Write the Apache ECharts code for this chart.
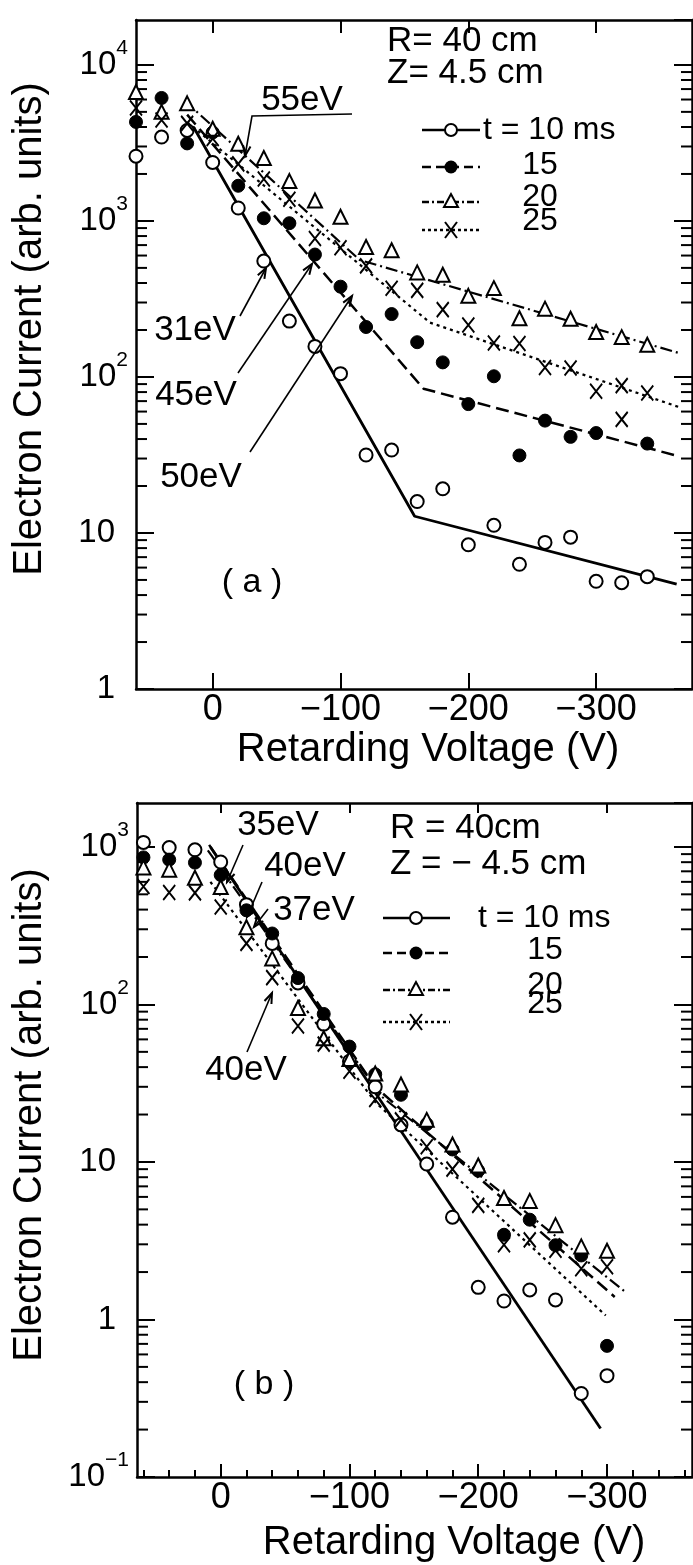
<!DOCTYPE html>
<html>
<head>
<meta charset="utf-8">
<script src="https://cdn.jsdelivr.net/npm/echarts@6/dist/echarts.min.js"></script>
<style>
html, body { margin: 0; padding: 0; background: #fff; }
#chart { width: 693px; height: 1565px; }
</style>
</head>
<body>
<div id="chart"></div>
<script>
// ---- panel (a)  R = 40 cm, Z = 4.5 cm ----
var aVolt   = [60, 40, 20, 0, -20, -40, -60, -80, -100, -120, -140, -160, -180, -200, -220, -240, -260, -280, -300, -320, -340];
var aCur10  = [2600, 3450, 3800, 2370, 1210, 553, 228, 157, 105, 31.6, 34, 15.9, 19.2, 8.4, 11.2, 6.3, 8.7, 9.4, 4.9, 4.8, 5.25];
var aVolt15 = [60, 40, 20, 0, -20, -40, -60, -80, -100, -120, -140, -160, -180, -200, -220, -240, -260, -280, -300, -340];
var aCur15  = [4310, 6140, 3140, 3690, 1680, 1040, 967, 609, 379, 209, 253, 167, 124, 67, 101, 31.4, 52.5, 41.3, 43.7, 37.4];
var aCur20  = [6710, 5000, 5670, 3900, 3125, 2530, 1800, 1352, 1064, 681, 649, 468, 452, 331, 371, 238, 274, 236, 194, 180, 161];
var aVolt25 = [60, 40, 20, 0, -20, -40, -60, -80, -100, -120, -140, -160, -180, -200, -220, -240, -260, -280, -300, -320, -320, -340];
var aCur25  = [5300, 4440, 4220, 3375, 2320, 1857, 1377, 771, 673, 515, 370, 359, 270, 215, 165, 164, 115, 114, 81, 88, 53.5, 79];
// fitted lines (a)
var aFitV10 = [15, -158, -363],  aFitI10 = [4000, 12.8, 4.7];
var aFitV15 = [20, -165, -365],  aFitI15 = [4800, 84, 31];
var aFitV20 = [22, -115, -364],  aFitI20 = [5900, 562, 143];
var aFitV25 = [20, -170, -365],  aFitI25 = [4300, 223, 64];

// ---- panel (b)  R = 40 cm, Z = -4.5 cm ----
var bVolt  = [60, 40, 20, 0, -20, -40, -60, -80, -100, -120, -140, -160, -180, -200, -220, -240, -260, -280, -300];
var bCur10 = [1068, 990, 959, 802, 430, 244, 137, 75, 43.6, 30, 17.2, 9.7, 4.46, 1.6, 1.31, 1.54, 1.33, 0.339, 0.44];
var bCur15 = [858, 830, 795, 663, 396, 282, 147, 87, 54, 36, 26.7, 17.4, 12, 8.8, 3.45, 4.3, 2.96, 2.55, 0.68];
var bCur20 = [741, 717, 637, 556, 309, 196, 95, 61, 45, 36.4, 31, 18.5, 12.9, 9.5, 5.9, 5.66, 3.97, 2.91, 2.73];
var bCur25 = [561, 513, 511, 415, 244, 148, 73, 56, 37.7, 24.9, 18.5, 12.5, 9, 5.3, 2.98, 3.2, 2.75, 2.1, 2.16];
// fitted lines (b)
var bFitV10 = [8, -295],         bFitI10 = [1000, 0.203];
var bFitV15 = [9, -120, -306],   bFitI15 = [1030, 30, 1.39];
var bFitV20 = [10, -125, -314],  bFitI20 = [950, 26, 1.5];
var bFitV25 = [8, -120, -299],   bFitI25 = [600, 24, 1.06];

// ticks
var xMajor  = [0, -100, -200, -300];
var bXMinor = [60, 40, 20, 0, -20, -40, -60, -80, -100, -120, -140, -160, -180, -200, -220, -240, -260, -280, -300, -320, -340, -360];
var minorMult = [2, 3, 4, 5, 6, 7, 8, 9];
var aDecades = [1, 10, 100, 1000];
var bDecades = [0.1, 1, 10, 100];

var FONT = '"Liberation Sans", Arial, sans-serif';

function pts(xs, ys) {
  return xs.map(function (x, i) { return [x, ys[i]]; });
}
function minorTicks(decades) {
  var out = [];
  decades.forEach(function (d) {
    minorMult.forEach(function (m) { out.push([0, +(d * m).toPrecision(6)]); });
  });
  return out;
}
function voltLabel(v) {
  return v === 0 ? '0' : '\u2212' + Math.abs(v);
}
function decadeLabel(v) {
  var l = Math.log10(v), e = Math.round(l);
  if (Math.abs(l - e) > 1e-6) return '';
  if (e === 0) return '{b|1}{z| }';
  if (e === 1) return '{b|10}{z| }';
  return '{b|10}{s|' + (e < 0 ? '\u2212' + (-e) : e) + '}';
}
var yRich = {
  b: { fontSize: 33, fontFamily: FONT, color: '#000', lineHeight: 54, verticalAlign: 'middle' },
  s: { fontSize: 21, fontFamily: FONT, color: '#000', lineHeight: 22, verticalAlign: 'top' },
  z: { width: 13, fontSize: 21, lineHeight: 22 }
};

function xAx(gi, min, max, pos, ticks, tickLen, labels, showLine) {
  return {
    type: 'value', gridIndex: gi, position: pos, inverse: true, min: min, max: max,
    axisLine: { show: showLine !== false, onZero: false, lineStyle: { color: '#000', width: 2.5 } },
    axisTick: { show: true, inside: true, length: tickLen, customValues: ticks, lineStyle: { color: '#000', width: 2 } },
    axisLabel: labels ? { show: true, customValues: labels, formatter: voltLabel, color: '#000',
      fontSize: 36, fontFamily: FONT, margin: 3 } : { show: false },
    splitLine: { show: false }
  };
}
function yAx(gi, min, max, pos, labels) {
  return {
    type: 'log', logBase: 10, gridIndex: gi, position: pos, min: min, max: max,
    axisLine: { show: true, onZero: false, lineStyle: { color: '#000', width: 2.5 } },
    axisTick: { show: true, inside: true, length: 18, lineStyle: { color: '#000', width: 2 } },
    axisLabel: labels ? { show: true, formatter: decadeLabel, rich: yRich, margin: 8, showMaxLabel: false } : { show: false },
    splitLine: { show: false }, minorTick: { show: false }, minorSplitLine: { show: false }
  };
}

var MARK = {
  open:  { symbol: 'circle', symbolSize: 13, itemStyle: { color: '#fff', borderColor: '#000', borderWidth: 2, opacity: 1 } },
  dot:   { symbol: 'circle', symbolSize: 13, itemStyle: { color: '#000', borderColor: '#000', borderWidth: 1, opacity: 1 } },
  tri:   { symbol: 'triangle', symbolSize: 14, itemStyle: { color: '#fff', borderColor: '#000', borderWidth: 2, opacity: 1 } },
  cross: { symbol: 'path://M0,0L12,15M12,0L0,15', symbolSize: [12, 15], itemStyle: { color: 'transparent', borderColor: '#000', borderWidth: 2, opacity: 1 } }
};
var DASH = { t10: 'solid', t15: [13, 6], t20: [12, 4, 2, 4], t25: [3, 4] };

function scatter(xi, yi, data, mark) {
  return {
    type: 'scatter', xAxisIndex: xi, yAxisIndex: yi, data: data, z: 4, silent: true,
    symbol: mark.symbol, symbolSize: mark.symbolSize, itemStyle: mark.itemStyle
  };
}
function fit(xi, yi, data, dash, w) {
  return {
    type: 'line', xAxisIndex: xi, yAxisIndex: yi, data: data, z: 2, silent: true,
    showSymbol: false, symbol: 'none',
    lineStyle: { color: '#000', width: w || 2.5, type: dash, opacity: 1 }
  };
}
function sideTicks(xi, yi, data) {
  return {
    type: 'custom', xAxisIndex: xi, yAxisIndex: yi, data: data, silent: true, z: 3,
    renderItem: function (params, api) {
      var cs = params.coordSys;
      var y = api.coord([0, api.value(1)])[1];
      var st = { stroke: '#000', lineWidth: 2 };
      return { type: 'group', children: [
        { type: 'line', shape: { x1: cs.x, y1: y, x2: cs.x + 11, y2: y }, style: st },
        { type: 'line', shape: { x1: cs.x + cs.width - 11, y1: y, x2: cs.x + cs.width, y2: y }, style: st }
      ] };
    }
  };
}

// ---- annotation helpers ----
function txt(s, x, y, size, align) {
  return { type: 'text', z: 10, style: { text: s, x: x, y: y, fill: '#000',
    font: size + 'px ' + FONT, align: align || 'center', verticalAlign: 'middle',
    textAlign: align || 'center', textVerticalAlign: 'middle' } };
}
function arrow(points) {
  var n = points.length, tip = points[n - 1], from = points[n - 2];
  var dx = tip[0] - from[0], dy = tip[1] - from[1], d = Math.sqrt(dx * dx + dy * dy);
  var ux = dx / d, uy = dy / d, a = 0.35, L = 11;
  function side(s) {
    var c = Math.cos(s * a), sn = Math.sin(s * a);
    return [tip[0] - L * (ux * c - uy * sn), tip[1] - L * (uy * c + ux * sn)];
  }
  return [
    { type: 'polyline', z: 10, shape: { points: points }, style: { stroke: '#000', lineWidth: 1.6, fill: null } },
    { type: 'polyline', z: 10, shape: { points: [side(1), tip, side(-1)] }, style: { stroke: '#000', lineWidth: 2, fill: null } }
  ];
}
function legendRow(x1, x2, xs, y, dash, kind) {
  var els = [{ type: 'line', z: 10, shape: { x1: x1, y1: y, x2: x2, y2: y },
    style: { stroke: '#000', lineWidth: 2.5, lineDash: dash === 'solid' ? null : dash } }];
  if (kind === 'open') els.push({ type: 'circle', z: 11, shape: { cx: xs, cy: y, r: 6 }, style: { fill: '#fff', stroke: '#000', lineWidth: 2 } });
  if (kind === 'dot') els.push({ type: 'circle', z: 11, shape: { cx: xs, cy: y, r: 6.5 }, style: { fill: '#000' } });
  if (kind === 'tri') els.push({ type: 'polygon', z: 11, shape: { points: [[xs, y - 8], [xs - 7, y + 5], [xs + 7, y + 5]] }, style: { fill: '#fff', stroke: '#000', lineWidth: 2 } });
  if (kind === 'cross') els.push({ type: 'polyline', z: 11, shape: { points: [[xs - 6, y - 8], [xs + 6, y + 8]] }, style: { stroke: '#000', lineWidth: 2, fill: null } },
    { type: 'polyline', z: 11, shape: { points: [[xs + 6, y - 8], [xs - 6, y + 8]] }, style: { stroke: '#000', lineWidth: 2, fill: null } });
  return els;
}

var graphics = [];
// axis titles
graphics.push(txt('Retarding Voltage (V)', 428, 750, 40));
graphics.push(txt('Retarding Voltage (V)', 454, 1543, 40));
graphics.push({ type: 'text', z: 10, x: 30, y: 329, rotation: Math.PI / 2,
  style: { text: 'Electron Current (arb. units)', x: 0, y: 0, fill: '#000', font: '40px ' + FONT,
    align: 'center', verticalAlign: 'middle', textAlign: 'center', textVerticalAlign: 'middle' } });
graphics.push({ type: 'text', z: 10, x: 30, y: 1115, rotation: Math.PI / 2,
  style: { text: 'Electron Current (arb. units)', x: 0, y: 0, fill: '#000', font: '40px ' + FONT,
    align: 'center', verticalAlign: 'middle', textAlign: 'center', textVerticalAlign: 'middle' } });
// panel labels
graphics.push(txt('( a )', 252, 583, 34));
graphics.push(txt('( b )', 264, 1385, 34));
// legend (a)
graphics.push(txt('R= 40 cm', 387, 41, 35, 'left'));
graphics.push(txt('Z= 4.5 cm', 387, 73, 35, 'left'));
graphics = graphics.concat(legendRow(422, 480, 451, 130, DASH.t10, 'open'));
graphics = graphics.concat(legendRow(422, 480, 451, 167, [9, 5], 'dot'));
graphics = graphics.concat(legendRow(422, 480, 451, 202, [7, 3, 2, 3], 'tri'));
graphics = graphics.concat(legendRow(422, 480, 451, 230, [3, 3], 'cross'));
graphics.push(txt('t = 10 ms', 483, 130, 32, 'left'));
graphics.push(txt('15', 540, 165, 32));
graphics.push(txt('20', 540, 197, 32));
graphics.push(txt('25', 540, 221, 32));
// legend (b)
graphics.push(txt('R = 40cm', 390, 828, 35, 'left'));
graphics.push(txt('Z = \u2212 4.5 cm', 390, 864, 35, 'left'));
graphics = graphics.concat(legendRow(383, 450, 416, 918, DASH.t10, 'open'));
graphics = graphics.concat(legendRow(383, 450, 416, 953, [9, 5], 'dot'));
graphics = graphics.concat(legendRow(383, 450, 416, 990, [7, 3, 2, 3], 'tri'));
graphics = graphics.concat(legendRow(383, 450, 416, 1022, [3, 3], 'cross'));
graphics.push(txt('t = 10 ms', 478, 918, 32, 'left'));
graphics.push(txt('15', 545, 950, 32));
graphics.push(txt('20', 545, 985, 32));
graphics.push(txt('25', 545, 1004, 32));
// energy annotations (a)
graphics.push(txt('55eV', 302, 100, 35));
graphics = graphics.concat(arrow([[352, 114], [252, 116], [245, 156]]));
graphics.push(txt('31eV', 195, 330, 35));
graphics = graphics.concat(arrow([[240, 316], [266, 268]]));
graphics.push(txt('45eV', 196, 395, 35));
graphics = graphics.concat(arrow([[238, 373], [312, 264]]));
graphics.push(txt('50eV', 201, 477, 35));
graphics = graphics.concat(arrow([[250, 452], [352, 296]]));
// energy annotations (b)
graphics.push(txt('35eV', 278, 825, 35));
graphics = graphics.concat(arrow([[243, 845], [227, 882]]));
graphics.push(txt('40eV', 305, 866, 35));
graphics = graphics.concat(arrow([[262, 882], [247, 917]]));
graphics.push(txt('37eV', 314, 910, 35));
graphics = graphics.concat(arrow([[268, 909], [254, 927]]));
graphics.push(txt('40eV', 246, 1070, 35));
graphics = graphics.concat(arrow([[247, 1052], [272, 993]]));

var chart = echarts.init(document.getElementById('chart'), null, { renderer: 'canvas' });
var option = {
  animation: false,
  backgroundColor: '#fff',
  grid: [
    { left: 136, top: 20, width: 556, height: 669, outerBoundsMode: 'none' },
    { left: 137, top: 803, width: 555, height: 674, outerBoundsMode: 'none' }
  ],
  xAxis: [
    xAx(0, -375, 60, 'bottom', xMajor, 16, xMajor),
    xAx(0, -375, 60, 'top', xMajor, 13, null),
    xAx(1, -366, 65, 'bottom', xMajor, 13, xMajor),
    xAx(1, -366, 65, 'bottom', bXMinor, 7, null, false),
    xAx(1, -366, 65, 'top', xMajor, 10, null)
  ],
  yAxis: [
    yAx(0, 1, 19400, 'left', true),
    yAx(0, 1, 19400, 'right', false),
    yAx(1, 0.1, 1900, 'left', true),
    yAx(1, 0.1, 1900, 'right', false)
  ],
  series: [
    sideTicks(0, 0, minorTicks(aDecades)),
    fit(0, 0, pts(aFitV10, aFitI10), DASH.t10, 2.8),
    fit(0, 0, pts(aFitV15, aFitI15), DASH.t15),
    fit(0, 0, pts(aFitV20, aFitI20), DASH.t20, 2.2),
    fit(0, 0, pts(aFitV25, aFitI25), DASH.t25, 2.2),
    scatter(0, 0, pts(aVolt, aCur10), MARK.open),
    scatter(0, 0, pts(aVolt15, aCur15), MARK.dot),
    scatter(0, 0, pts(aVolt, aCur20), MARK.tri),
    scatter(0, 0, pts(aVolt25, aCur25), MARK.cross),

    sideTicks(2, 2, minorTicks(bDecades)),
    fit(2, 2, pts(bFitV10, bFitI10), DASH.t10, 2.8),
    fit(2, 2, pts(bFitV15, bFitI15), DASH.t15),
    fit(2, 2, pts(bFitV20, bFitI20), DASH.t20, 2.2),
    fit(2, 2, pts(bFitV25, bFitI25), DASH.t25, 2.2),
    scatter(2, 2, pts(bVolt, bCur10), MARK.open),
    scatter(2, 2, pts(bVolt, bCur15), MARK.dot),
    scatter(2, 2, pts(bVolt, bCur20), MARK.tri),
    scatter(2, 2, pts(bVolt, bCur25), MARK.cross)
  ],
  graphic: { elements: graphics }
};
chart.setOption(option);
</script>
</body>
</html>
